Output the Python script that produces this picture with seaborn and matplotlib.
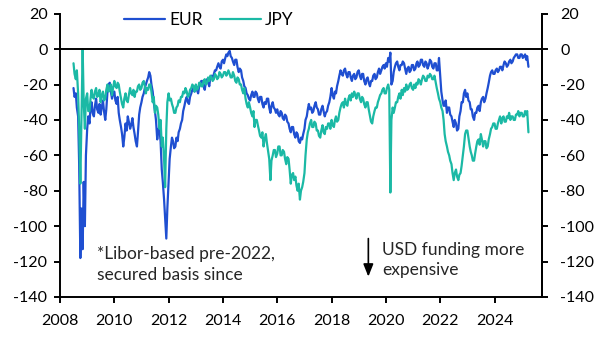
import numpy as np
import pandas as pd
import matplotlib
matplotlib.use("Agg")
import matplotlib.pyplot as plt
import seaborn as sns

# Semi-monthly readings (1st and 15th of each month), July 2008 - April 2025
eur = [
    # 2008 Jul-Dec
    -22, -27, -25, -33, -38, -65, -118, -90, -113, -75, -100, -60,
    # 2009
    -45, -38, -42, -33, -30, -36, -38, -32, -28, -34, -36, -31,
    -37, -33, -29, -35, -40, -34, -24, -20, -19, -24, -28, -25,
    # 2010
    -24, -29, -31, -27, -36, -40, -44, -48, -55, -50, -42, -46,
    -38, -41, -45, -43, -39, -44, -48, -52, -55, -47, -37, -33,
    # 2011
    -30, -27, -25, -22, -20, -18, -16, -13, -15, -20, -24, -30,
    -35, -40, -51, -45, -46, -52, -68, -75, -85, -95, -107, -90,
    # 2012
    -74, -62, -55, -50, -52, -56, -55, -50, -52, -47, -45, -42,
    -40, -35, -32, -29, -27, -30, -31, -27, -25, -23, -22, -24,
    # 2013
    -21, -23, -25, -21, -20, -18, -18, -21, -23, -19, -17, -19,
    -21, -16, -15, -17, -14, -12, -12, -10, -8, -10, -11, -7,
    # 2014
    -6, -8, -5, -3, -4, -2, -1, -4, -5, -7, -9, -6,
    -6, -10, -13, -11, -12, -16, -18, -21, -22, -25, -26, -28,
    # 2015
    -29, -26, -24, -27, -27, -24, -25, -28, -30, -27, -27, -31,
    -33, -30, -31, -28, -28, -33, -36, -32, -30, -33, -34, -36,
    # 2016
    -34, -37, -38, -35, -36, -39, -40, -37, -38, -41, -42, -45,
    -47, -44, -44, -48, -50, -47, -48, -52, -53, -50, -51, -48,
    # 2017
    -45, -40, -38, -34, -31, -34, -33, -36, -35, -32, -30, -33,
    -34, -37, -37, -34, -32, -35, -38, -36, -35, -32, -30, -27,
    # 2018
    -22, -26, -28, -24, -25, -21, -18, -15, -12, -14, -15, -12,
    -11, -14, -16, -13, -13, -16, -18, -15, -14, -17, -16, -13,
    # 2019
    -12, -15, -17, -14, -14, -18, -20, -17, -16, -19, -21, -18,
    -18, -15, -14, -17, -16, -13, -11, -14, -12, -10, -9, -11,
    # 2020
    -8, -10, -5, -7, -2, -20, -18, -13, -10, -8, -7, -10,
    -12, -9, -9, -7, -8, -11, -14, -11, -10, -13, -12, -9,
    # 2021
    -9, -12, -11, -8, -7, -10, -9, -6, -6, -9, -10, -7,
    -8, -11, -9, -6, -7, -10, -11, -8, -8, -12, -12, -5,
    # 2022
    -15, -24, -29, -32, -32, -29, -36, -33, -33, -37, -38, -41,
    -44, -40, -42, -46, -45, -38, -35, -30, -30, -25, -23, -27,
    # 2023
    -25, -29, -30, -34, -34, -38, -40, -36, -36, -33, -32, -35,
    -30, -28, -27, -30, -28, -25, -22, -19, -15, -13, -12, -14,
    # 2024
    -14, -12, -11, -13, -12, -10, -10, -12, -9, -7, -8, -10,
    -9, -7, -6, -8, -7, -5, -4, -3, -3, -5, -5, -3,
    # 2025 Jan-Apr
    -3, -5, -4, -3, -6, -4, -10,
]

jpy = [
    # 2008 Jul-Dec
    -8, -14, -17, -12, -25, -45, -76, -40, 0, -30, -45, -28,
    # 2009
    -25, -35, -35, -28, -23, -27, -28, -24, -22, -27, -26, -23,
    -30, -26, -24, -29, -28, -23, -20, -24, -23, -20, -26, -22,
    # 2010
    -18, -21, -22, -19, -20, -24, -28, -31, -33, -28, -25, -29,
    -30, -26, -22, -25, -26, -23, -27, -24, -24, -21, -20, -23,
    # 2011
    -22, -19, -18, -21, -25, -22, -23, -20, -20, -24, -30, -27,
    -36, -32, -33, -37, -45, -40, -55, -50, -62, -78, -45, -30,
    # 2012
    -25, -29, -28, -31, -33, -36, -36, -33, -32, -29, -30, -27,
    -27, -24, -25, -22, -24, -27, -26, -23, -22, -20, -21, -24,
    # 2013
    -20, -23, -22, -19, -19, -21, -21, -18, -17, -20, -19, -16,
    -18, -15, -16, -18, -17, -14, -15, -17, -16, -13, -14, -16,
    # 2014
    -15, -13, -13, -15, -14, -12, -14, -16, -16, -13, -15, -18,
    -19, -16, -17, -20, -20, -23, -25, -22, -28, -31, -33, -30,
    # 2015
    -33, -36, -38, -35, -44, -40, -40, -43, -46, -49, -50, -47,
    -55, -51, -48, -53, -58, -62, -74, -63, -60, -57, -57, -61,
    # 2016
    -59, -55, -55, -60, -60, -57, -58, -62, -65, -61, -62, -68,
    -76, -71, -70, -74, -72, -77, -80, -76, -85, -80, -78, -75,
    # 2017
    -70, -60, -51, -47, -45, -42, -40, -44, -44, -41, -42, -46,
    -46, -49, -50, -46, -43, -47, -48, -44, -45, -42, -42, -45,
    # 2018
    -40, -43, -44, -40, -38, -41, -40, -36, -33, -31, -30, -33,
    -28, -31, -32, -28, -26, -29, -25, -27, -24, -26, -28, -25,
    # 2019
    -25, -28, -30, -27, -28, -31, -33, -30, -30, -34, -38, -41,
    -42, -38, -35, -33, -33, -30, -28, -26, -25, -23, -22, -25,
    # 2020
    -25, -22, -20, -23, -81, -40, -33, -36, -33, -30, -30, -27,
    -25, -28, -23, -26, -22, -24, -20, -23, -22, -20, -19, -22,
    # 2021
    -23, -20, -22, -19, -20, -17, -18, -20, -17, -15, -16, -18,
    -18, -15, -16, -14, -15, -17, -17, -15, -19, -22, -25, -28,
    # 2022
    -30, -33, -35, -40, -48, -52, -55, -58, -60, -63, -65, -70,
    -74, -70, -68, -72, -74, -71, -70, -66, -60, -55, -48, -46,
    # 2023
    -46, -50, -55, -58, -60, -63, -63, -59, -55, -52, -51, -54,
    -48, -51, -55, -52, -52, -56, -55, -51, -48, -45, -44, -42,
    # 2024
    -42, -45, -45, -42, -40, -38, -42, -39, -38, -41, -41, -38,
    -39, -36, -40, -38, -38, -40, -40, -37, -37, -35, -38, -36,
    # 2025 Jan-Apr
    -36, -38, -38, -35, -37, -35, -47,
]

series_names = ["EUR", "JPY"]
colors = {"EUR": "#1f4fd1", "JPY": "#1bb9a5"}
y_ticks = [20, 0, -20, -40, -60, -80, -100, -120, -140]
x_tick_years = [2008, 2010, 2012, 2014, 2016, 2018, 2020, 2022, 2024]

assert len(eur) == len(jpy)
dates = pd.date_range("2008-07-01", periods=len(eur), freq="SMS")
df = pd.concat([
    pd.DataFrame({"date": dates, "value": eur, "series": "EUR"}),
    pd.DataFrame({"date": dates, "value": jpy, "series": "JPY"}),
])

sns.set_theme(style="white")
plt.rcParams["font.family"] = ["Lato", "DejaVu Sans"]

fig = plt.figure(figsize=(6.07, 3.42), dpi=100)
ax = fig.add_axes([0.0988, 0.1316, 0.7942, 0.8284])

sns.lineplot(data=df, x="date", y="value", hue="series", hue_order=series_names,
             palette=colors, linewidth=1.6, ax=ax, legend=True)

ax.axhline(0, color="black", lw=1.4, zorder=3)
ax.set_ylim(-140, 20)
ax.set_yticks(y_ticks)
ax.set_yticklabels([str(t) for t in y_ticks])
ax.set_xlim(pd.Timestamp("2008-01-01"), pd.Timestamp("2025-10-01"))
ax.set_xticks([pd.Timestamp(f"{y}-01-01") for y in x_tick_years])
ax.set_xticklabels([str(y) for y in x_tick_years])
ax.set_xlabel("")
ax.set_ylabel("")

for s in ["left", "right", "bottom"]:
    ax.spines[s].set_visible(True)
    ax.spines[s].set_color("black")
    ax.spines[s].set_linewidth(1.4)
ax.spines["top"].set_visible(False)

ax.tick_params(axis="y", left=True, right=False, labelleft=True, labelright=False,
               direction="out", length=4, width=1.4, labelsize=11.5, colors="black", pad=5)
ax.tick_params(axis="x", bottom=True, direction="out", length=4, width=1.4,
               labelsize=11.5, colors="black", pad=8)

# right-hand axis mirroring the left one
ax2 = ax.twinx()
ax2.set_ylim(-140, 20)
ax2.set_yticks(y_ticks)
ax2.set_yticklabels([str(t) for t in y_ticks])
ax2.grid(False)
for s in ["left", "top", "bottom"]:
    ax2.spines[s].set_visible(False)
ax2.spines["right"].set_color("black")
ax2.spines["right"].set_linewidth(1.4)
ax2.tick_params(axis="y", right=True, labelright=True, direction="out", length=4,
                width=1.4, labelsize=11.5, colors="black", pad=9)
for lab in ax2.get_yticklabels():
    lab.set_horizontalalignment("left")

leg = ax.legend(loc="center left", bbox_to_anchor=(0.1326, 0.978), ncol=2, frameon=False,
                fontsize=12.5, handlelength=2.35, columnspacing=1.0, handletextpad=0.25,
                borderaxespad=0, borderpad=0)
for t in leg.get_texts():
    t.set_color("black")

ax.text(pd.Timestamp("2009-05-12"), -121.4, "*Libor-based pre-2022,\nsecured basis since",
        fontsize=12.5, va="center", ha="left", linespacing=1.38)

ax.annotate("", xy=(pd.Timestamp("2019-05-10"), -128.5), xytext=(pd.Timestamp("2019-05-10"), -107),
            arrowprops=dict(arrowstyle="-|>,head_length=0.5,head_width=0.2", color="black",
                            lw=1.2, mutation_scale=15, shrinkA=0, shrinkB=0))
ax.text(pd.Timestamp("2019-11-16"), -119.1, "USD funding more\nexpensive",
        fontsize=12.5, va="center", ha="left", linespacing=1.38)

fig.savefig("out.png", dpi=100)
